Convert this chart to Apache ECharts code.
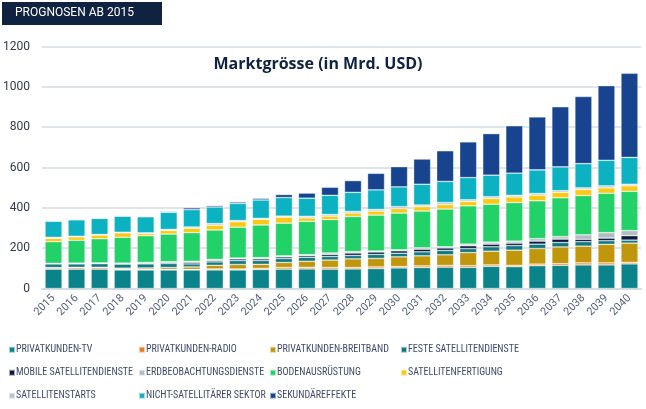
<!DOCTYPE html>
<html>
<head>
<meta charset="utf-8">
<script src="https://cdn.jsdelivr.net/npm/echarts@6/dist/echarts.min.js"></script>
<style>html,body{margin:0;padding:0;background:#fff}#c{width:646px;height:409px}</style>
</head>
<body>
<div id="c"></div>
<script>
const years = ['2015','2016','2017','2018','2019','2020','2021','2022','2023','2024','2025','2026','2027','2028','2029','2030','2031','2032','2033','2034','2035','2036','2037','2038','2039','2040'];
const yTicks = [0, 200, 400, 600, 800, 1000, 1200];
const tv     = [96,96,96,92,92,92,92,92,92,94,96,97,96,97,99,102,104,106,105,110,108,113,115,117,117,122];
const radio  = [6,7,7,4,3,3,3,5,5,6,8,8,8,7,8,7,8,8,8,7,7,8,8,10,10,8];
const breit  = [2,2,2,5,7,9,12,18,22,20,25,30,37,43,42,48,50,53,65,68,75,77,83,83,92,95];
const feste  = [18,17,18,20,20,20,15,17,20,19,20,20,18,17,20,18,20,22,20,22,23,22,22,22,18,15];
const mobile = [2,3,3,4,4,5,8,7,8,8,8,8,10,12,12,12,13,12,14,13,12,15,17,12,13,22];
const erdb   = [1,1,1,1,3,4,5,5,4,6,5,5,7,7,5,5,7,6,8,10,10,12,12,22,27,25];
const boden  = [107,113,120,128,133,137,142,146,153,162,162,165,166,174,178,182,182,187,190,188,191,188,193,195,195,195];
const fert   = [17,17,18,22,11,18,22,24,27,28,30,17,17,17,20,22,22,22,22,29,28,28,27,30,27,27];
const starts = [5,3,3,3,3,5,6,8,6,5,5,8,8,8,8,10,8,10,8,8,8,8,8,8,10,8];
const nicht  = [80,82,80,80,80,85,86,82,85,91,92,90,95,95,97,98,103,105,110,107,110,117,118,120,127,133];
const sek    = [0,0,0,0,0,4,9,7,7,8,15,25,40,58,82,100,125,152,177,206,235,263,298,333,370,417];

const seriesDefs = [
  ['PRIVATKUNDEN-TV', tv, '#0a838a'],
  ['PRIVATKUNDEN-RADIO', radio, '#f27a1c'],
  ['PRIVATKUNDEN-BREITBAND', breit, '#bf960c'],
  ['FESTE SATELLITENDIENSTE', feste, '#137a83'],
  ['MOBILE SATELLITENDIENSTE', mobile, '#0c1a3c'],
  ['ERDBEOBACHTUNGSDIENSTE', erdb, '#b2bcc4'],
  ['BODENAUSRÜSTUNG', boden, '#22d168'],
  ['SATELLITENFERTIGUNG', fert, '#fcc812'],
  ['SATELLITENSTARTS', starts, '#b9c3cb'],
  ['NICHT-SATELLITÄRER SEKTOR', nicht, '#0cb2c2'],
  ['SEKUNDÄREFFEKTE', sek, '#17438f']
];

const chart = echarts.init(document.getElementById('c'), null, {renderer: 'canvas'});
const series = seriesDefs.map(([name, data, color]) => ({
  name, type: 'bar', stack: 'total', data, barWidth: 17,
  itemStyle: {color, borderColor: 'rgba(255,255,255,0.6)', borderWidth: 0.6},
  emphasis: {disabled: true}
}));

const narrow = "'Roboto Condensed', 'Liberation Sans Narrow', 'DejaVu Sans Condensed', Roboto";
const cols = [[0,4,8],[1,5,9],[2,6,10],[3,7]];
const colLeft = [8, 138, 269, 400];
const legends = cols.map((idx, i) => ({
  orient: 'vertical', left: colLeft[i], top: 344, itemGap: 11.5, padding: 0,
  itemWidth: 6, itemHeight: 6, icon: 'rect', selectedMode: false,
  textStyle: {fontFamily: narrow, fontSize: 10, lineHeight: 11.5, color: '#3f4c6b', padding: [0,0,0,-4]},
  data: idx.map(k => seriesDefs[k][0])
}));

chart.setOption({
  animation: false,
  textStyle: {fontFamily: 'Roboto'},
  title: {
    text: 'Marktgrösse (in Mrd. USD)', left: 313, textAlign: 'center', top: 51,
    textStyle: {fontFamily: 'Open Sans', fontWeight: 'bold', fontSize: 16, color: '#0f2242'}
  },
  graphic: [
    {type: 'rect', left: 2, top: 2, shape: {width: 160, height: 23}, style: {fill: '#0f2341'}},
    {type: 'text', left: 15, top: 7, style: {text: 'PROGNOSEN AB 2015', fill: '#ffffff', font: '12px Roboto'}}
  ],
  legend: legends,
  grid: {left: 42, right: 5, top: 46.5, bottom: 120.5, containLabel: false},
  xAxis: {
    type: 'category', data: years,
    axisLine: {lineStyle: {color: '#d5dce3', width: 2}},
    axisTick: {show: false},
    axisLabel: {rotate: 45, fontSize: 11, color: '#55627f', margin: 8, fontFamily: 'Roboto'}
  },
  yAxis: {
    type: 'value', min: yTicks[0], max: yTicks[yTicks.length-1], interval: 200,
    axisLine: {show: false}, axisTick: {show: false},
    splitLine: {lineStyle: {color: '#dfe4e9', width: 2}},
    axisLabel: {fontSize: 12, color: '#333a48', margin: 12, fontFamily: 'Roboto', formatter: v => String(v)}
  },
  series
});
</script>
</body>
</html>
